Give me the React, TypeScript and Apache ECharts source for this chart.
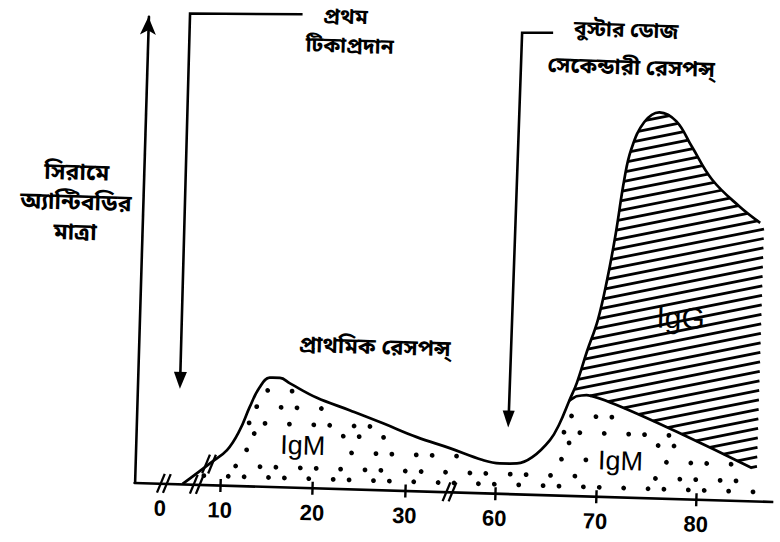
import React, { useEffect, useRef } from "react";
import * as echarts from "echarts";

// ---------------- data (days after first vaccination, antibody level 0-100) ----------------
const tickDays = [0, 10, 20, 30, 60, 70, 80];
const tickLabels = ["0", "10", "20", "30", "60", "70", "80"];

// total antibody curve: primary response, trough, secondary (IgG) envelope
const curveDays = [
  5.9, 8.8, 10.6, 11.9, 12.9, 13.9, 15.0, 16.1, 17.2, 20.1, 23.8, 27.4, 31.1, 34.7,
  58.7, 60.4, 62.1, 63.6, 65.3, 66.2, 67.1,
  67.8, 68.7, 69.7, 70.5, 71.2, 71.9, 72.5, 73.7, 75.2, 76.9, 78.5, 80.6, 83.4, 85.5,
];
const curveLevels = [
  0, 4.5, 7.4, 11.6, 16.5, 20.7, 22.9, 22.9, 21.8, 19.0, 16.5, 14.0, 11.3, 9.2,
  6.9, 6.3, 6.4, 7.8, 11.5, 15.0, 19.9,
  23.7, 30.3, 37.1, 45.6, 55.1, 66.7, 73.1, 78.9, 81.1, 79.3, 74.1, 67.3, 61.8, 58.5,
];

// secondary IgM boundary line
const igmDays = [67.1, 67.8, 68.8, 85.4];
const igmLevels = [19.9, 20.9, 21.2, 6.9];
const igmAreaEndDay = 86.4;

const curveBreakDay = 8.7;

// ---------------- layout ----------------
const GRID = { left: 141, top: 24, width: 640, height: 466 };
const X_MAX = 64;
const Y_MAX = 98;
const axisBreakPos = [2.93, 6.23, 31.55];
const SMOOTH = 0.4;
const SMOOTH_IGM = 0.12;
const BN_FONT = "'Noto Sans Bengali','Lohit Bengali','Noto Sans',sans-serif";
const LAT_FONT = "'Liberation Sans',Arial,sans-serif";
const IGM1 = [308, 448];
const IGM2 = [626, 454];
const IGG = [682, 309];

// broken x axis: days -> axis position
function dayToPos(d: number): number {
  if (d <= 1) return 2.6 + d * 0.3;
  if (d <= 34.8) return 0.925 * d - 0.65;
  if (d < 55.4) return 31.54;
  return 1.01 * d - 24.5;
}

const tickPos = tickDays.map(dayToPos);
function labelFor(v: number): string {
  let best = 0;
  for (let i = 1; i < tickPos.length; i++) {
    if (Math.abs(tickPos[i] - v) < Math.abs(tickPos[best] - v)) best = i;
  }
  return tickLabels[best];
}

type P = number[];

// same smoothing as ECharts line series
function smoothSample(pts: P[], smooth: number, steps = 14): P[][] {
  const segs: P[][] = [];
  let cpx0 = pts[0][0], cpy0 = pts[0][1];
  let prevX = pts[0][0], prevY = pts[0][1];
  for (let i = 1; i < pts.length; i++) {
    const x = pts[i][0], y = pts[i][1];
    let cpx1: number, cpy1: number, nextCpx0: number, nextCpy0: number;
    if (i === pts.length - 1 || smooth <= 0) {
      cpx1 = x; cpy1 = y; nextCpx0 = x; nextCpy0 = y;
    } else {
      const nextX = pts[i + 1][0], nextY = pts[i + 1][1];
      let vx = nextX - prevX, vy = nextY - prevY;
      const lenPrev = Math.hypot(x - prevX, y - prevY);
      const lenNext = Math.hypot(nextX - x, nextY - y);
      const ratio = lenNext / (lenNext + lenPrev);
      nextCpx0 = x + vx * smooth * ratio;
      nextCpy0 = y + vy * smooth * ratio;
      nextCpx0 = Math.min(nextCpx0, Math.max(nextX, x));
      nextCpy0 = Math.min(nextCpy0, Math.max(nextY, y));
      nextCpx0 = Math.max(nextCpx0, Math.min(nextX, x));
      nextCpy0 = Math.max(nextCpy0, Math.min(nextY, y));
      vx = nextCpx0 - x; vy = nextCpy0 - y;
      cpx1 = x - (vx * lenPrev) / lenNext;
      cpy1 = y - (vy * lenPrev) / lenNext;
      cpx1 = Math.min(cpx1, Math.max(prevX, x));
      cpy1 = Math.min(cpy1, Math.max(prevY, y));
      cpx1 = Math.max(cpx1, Math.min(prevX, x));
      cpy1 = Math.max(cpy1, Math.min(prevY, y));
      vx = x - cpx1; vy = y - cpy1;
      nextCpx0 = x + (vx * lenNext) / lenPrev;
      nextCpy0 = y + (vy * lenNext) / lenPrev;
    }
    const seg: P[] = [];
    for (let s = 0; s <= steps; s++) {
      const t = s / steps, mt = 1 - t;
      seg.push([
        mt * mt * mt * prevX + 3 * mt * mt * t * cpx0 + 3 * mt * t * t * cpx1 + t * t * t * x,
        mt * mt * mt * prevY + 3 * mt * mt * t * cpy0 + 3 * mt * t * t * cpy1 + t * t * t * y,
      ]);
    }
    segs.push(seg);
    cpx0 = nextCpx0; cpy0 = nextCpy0; prevX = x; prevY = y;
  }
  return segs;
}

function flat(segs: P[][]): P[] {
  const out: P[] = [segs[0][0]];
  segs.forEach((s) => s.slice(1).forEach((p) => out.push(p)));
  return out;
}

function inside(p: P, poly: P[]): boolean {
  let c = false;
  for (let i = 0, j = poly.length - 1; i < poly.length; j = i++) {
    const [xi, yi] = poly[i], [xj, yj] = poly[j];
    if (yi > p[1] !== yj > p[1] && p[0] < ((xj - xi) * (p[1] - yi)) / (yj - yi) + xi) c = !c;
  }
  return c;
}

function distEdges(p: P, poly: P[]): number {
  let m = Infinity;
  for (let i = 0; i < poly.length; i++) {
    const a = poly[i], b = poly[(i + 1) % poly.length];
    const dx = b[0] - a[0], dy = b[1] - a[1];
    const l2 = dx * dx + dy * dy;
    let t = l2 ? ((p[0] - a[0]) * dx + (p[1] - a[1]) * dy) / l2 : 0;
    t = Math.max(0, Math.min(1, t));
    m = Math.min(m, Math.hypot(p[0] - (a[0] + t * dx), p[1] - (a[1] + t * dy)));
  }
  return m;
}

function hatch(poly: P[], slope: number, spacing: number): number[][] {
  const out: number[][] = [];
  let minC = Infinity, maxC = -Infinity;
  poly.forEach(([x, y]) => {
    const c = y + slope * x;
    minC = Math.min(minC, c);
    maxC = Math.max(maxC, c);
  });
  for (let c = minC + spacing * 0.6; c < maxC; c += spacing) {
    const xs: number[] = [];
    for (let i = 0; i < poly.length; i++) {
      const [x1, y1] = poly[i], [x2, y2] = poly[(i + 1) % poly.length];
      const f1 = y1 + slope * x1 - c, f2 = y2 + slope * x2 - c;
      if (f1 < 0 !== f2 < 0) {
        const t = f1 / (f1 - f2);
        xs.push(x1 + t * (x2 - x1));
      }
    }
    xs.sort((a, b) => a - b);
    for (let k = 0; k + 1 < xs.length; k += 2) {
      out.push([xs[k], c - slope * xs[k], xs[k + 1], c - slope * xs[k + 1]]);
    }
  }
  return out;
}

function renderDecor(_params: any, api: any) {
  const toPx = (d: number, l: number): P => api.coord([dayToPos(d), l]);
  const mainPx = curveDays.map((d, i) => toPx(d, curveLevels[i]));
  const igmPx = igmDays.map((d, i) => toPx(d, igmLevels[i]));
  const mainSegs = smoothSample(mainPx, SMOOTH);
  const igmSegs = smoothSample(igmPx, SMOOTH_IGM);
  const branch = curveDays.indexOf(igmDays[0]);
  const topA = flat(mainSegs.slice(0, branch));
  const igG = flat(mainSegs.slice(branch));
  const igmTop = flat(igmSegs);

  const children: any[] = [];

  // IgM stipple
  const igmPoly: P[] = [...topA, ...igmTop.slice(1), toPx(igmAreaEndDay, 0), toPx(curveDays[0], 0)];
  const exclude = [IGM1, IGM2];
  let minX = Infinity, maxX = -Infinity, minY = Infinity, maxY = -Infinity;
  igmPoly.forEach(([x, y]) => {
    minX = Math.min(minX, x); maxX = Math.max(maxX, x);
    minY = Math.min(minY, y); maxY = Math.max(maxY, y);
  });
  const dx = 21, dy = 14.5;
  for (let j = 0; maxY - 7 - j * dy > minY; j++) {
    const y = maxY - 7 - j * dy;
    const off = (j % 2) * dx * 0.5;
    for (let i = 0; minX + off + i * dx < maxX; i++) {
      const jx = (((i * 7 + j * 3) % 5) - 2) * 1.7;
      const jy = (((i * 3 + j * 5) % 3) - 1) * 2;
      const p = [minX + off + i * dx + jx, y + jy];
      if (!inside(p, igmPoly)) continue;
      if (distEdges(p, igmPoly) < 5) continue;
      if (exclude.some((e) => Math.abs(p[0] - e[0]) < 33 && Math.abs(p[1] - e[1]) < 20)) continue;
      children.push({ type: "circle", shape: { cx: p[0], cy: p[1], r: 2.4 }, style: { fill: "#000" } });
    }
  }

  // IgG hatching
  const last = igG[igG.length - 1];
  const xr = last[0] + 4;
  const p2 = igmPx[igmPx.length - 2], p3 = igmPx[igmPx.length - 1];
  const yBot = p3[1] + ((xr - p3[0]) * (p3[1] - p2[1])) / (p3[0] - p2[0]);
  const igGPoly: P[] = [...igG, [xr, last[1]], [xr, yBot], ...igmTop.slice().reverse()];
  hatch(igGPoly, 0.23, 9.5).forEach(([x1, y1, x2, y2]) => {
    children.push({
      type: "line",
      shape: { x1, y1, x2, y2 },
      style: { stroke: "#000", lineWidth: 2.8, lineCap: "butt" },
    });
  });

  // break marks "//"
  const marks: P[] = axisBreakPos.map((p) => api.coord([p, 0]));
  let k = 0;
  while (k < curveDays.length - 2 && curveDays[k + 1] < curveBreakDay) k++;
  const t = (curveBreakDay - curveDays[k]) / (curveDays[k + 1] - curveDays[k]);
  marks.push(toPx(curveBreakDay, curveLevels[k] + t * (curveLevels[k + 1] - curveLevels[k])));
  marks.forEach(([cx, cy]) => {
    [-3, 3].forEach((o) => {
      children.push({
        type: "line",
        shape: { x1: cx + o - 3.6, y1: cy + 9.5, x2: cx + o + 3.6, y2: cy - 9.5 },
        style: { stroke: "#000", lineWidth: 2.3 },
      });
    });
  });

  return { type: "group", children };
}

function buildOption(): any {
  const tickStyle = { color: "#000", width: 2.4 };
  const bnText = (x: number, y: number, text: string, size: number, lh = 0) => ({
    type: "text",
    x,
    y,
    z: 100,
    style: {
      text,
      fill: "#000",
      font: `bold ${size}px ${BN_FONT}`,
      textAlign: "center",
      textVerticalAlign: "middle",
      align: "center",
      verticalAlign: "middle",
      lineHeight: lh || size + 6,
    },
  });
  const latText = (pos: number[], text: string, size: number) => ({
    type: "text",
    x: pos[0],
    y: pos[1],
    z: 100,
    style: {
      text,
      fill: "#000",
      font: `${size}px ${LAT_FONT}`,
      textAlign: "center",
      textVerticalAlign: "middle",
      align: "center",
      verticalAlign: "middle",
    },
  });
  const line = (points: number[][]) => ({
    type: "polyline",
    z: 100,
    shape: { points },
    style: { stroke: "#000", lineWidth: 2.6, fill: null },
  });
  const head = (x: number, tipY: number, baseY: number, hw: number) => ({
    type: "polygon",
    z: 100,
    shape: { points: [[x - hw, baseY], [x + hw, baseY], [x, tipY]] },
    style: { fill: "#000" },
  });

  return {
    animation: false,
    backgroundColor: "#fff",
    grid: { ...GRID, containLabel: false },
    xAxis: [
      {
        type: "value",
        min: 0,
        max: X_MAX,
        axisLine: { show: true, lineStyle: { color: "#000", width: 2.6 } },
        axisTick: { show: true, customValues: tickPos.slice(1), length: 7, lineStyle: tickStyle },
        axisLabel: {
          show: true,
          customValues: tickPos,
          formatter: (v: number) => labelFor(v),
          margin: 14,
          color: "#000",
          fontSize: 22,
          fontWeight: "bold",
          fontFamily: LAT_FONT,
        },
        splitLine: { show: false },
      },
      {
        type: "value",
        min: 0,
        max: X_MAX,
        position: "bottom",
        offset: 0,
        axisLine: { show: false },
        axisTick: { show: true, inside: true, customValues: tickPos.slice(1), length: 6, lineStyle: tickStyle },
        axisLabel: { show: false },
        splitLine: { show: false },
      },
    ],
    yAxis: {
      type: "value",
      min: 0,
      max: Y_MAX,
      axisLine: {
        show: true,
        symbol: ["none", "arrow"],
        symbolSize: [12, 18],
        lineStyle: { color: "#000", width: 2.6 },
      },
      axisTick: { show: false },
      axisLabel: { show: false },
      splitLine: { show: false },
    },
    series: [
      {
        type: "custom",
        renderItem: renderDecor,
        data: [[0, 0]],
        z: 2,
        silent: true,
        clip: false,
      },
      {
        type: "line",
        data: curveDays.map((d, i) => [dayToPos(d), curveLevels[i]]),
        smooth: SMOOTH,
        symbol: "none",
        showSymbol: false,
        lineStyle: { color: "#000", width: 2.7 },
        z: 3,
        silent: true,
      },
      {
        type: "line",
        data: igmDays.map((d, i) => [dayToPos(d), igmLevels[i]]),
        smooth: SMOOTH_IGM,
        symbol: "none",
        showSymbol: false,
        lineStyle: { color: "#000", width: 2.7 },
        z: 3,
        silent: true,
      },
    ],
    graphic: [
      bnText(74, 213, "সিরামে\nঅ্যান্টিবডির\nমাত্রা", 23, 30),
      bnText(338, 20, "প্রথম", 21),
      bnText(343, 49, "টিকাপ্রদান", 21),
      bnText(619, 25, "বুস্টার ডোজ", 21),
      bnText(625, 62, "সেকেন্ডারী রেসপন্স্", 22),
      bnText(377, 349, "প্রাথমিক রেসপন্স্", 22),
      latText(IGM1, "IgM", 27),
      latText(IGM2, "IgM", 27),
      latText(IGG, "IgG", 30),
      line([[295, 17], [182.5, 19.5], [183.5, 380]]),
      head(183.5, 395, 378, 6.5),
      line([[546, 28], [515, 29], [513, 409]]),
      head(512.8, 424, 407, 6),
    ],
  };
}

export default function App() {
  const ref = useRef<HTMLDivElement>(null);
  useEffect(() => {
    if (!ref.current) return;
    const chart = echarts.init(ref.current, null, { renderer: "svg" });
    chart.setOption(buildOption());
    return () => chart.dispose();
  }, []);
  return (
    <div
      style={{
        position: "fixed",
        left: 0,
        top: 0,
        width: 780,
        height: 542,
        overflow: "hidden",
        background: "#fff",
      }}
    >
      <div
        ref={ref}
        style={{
          width: 780,
          height: 542,
          transform: "rotate(1.7deg)",
          transformOrigin: "390px 271px",
        }}
      />
    </div>
  );
}
